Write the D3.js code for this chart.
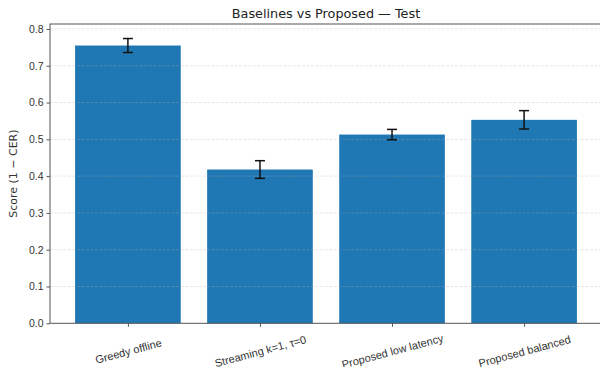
<!DOCTYPE html>
<html><head><meta charset="utf-8">
<script src="https://cdn.jsdelivr.net/npm/d3@7"></script>
<style>body{margin:0;background:#fff;}svg{display:block;font-family:"DejaVu Sans",sans-serif;}</style>
</head><body>
<svg id="c" width="600" height="367"></svg>
<script>
const categories = ["Greedy offline", "Streaming k=1, τ=0", "Proposed low latency", "Proposed balanced"];
const scores = [0.755, 0.418, 0.513, 0.553];
const errors = [0.019, 0.024, 0.014, 0.025];
const yTicks = [0.0, 0.1, 0.2, 0.3, 0.4, 0.5, 0.6, 0.7, 0.8];
const title = "Baselines vs Proposed — Test";
const yLabel = "Score (1 − CER)";

const svg = d3.select("#c");
const L = 50, R = 602, T = 24, B = 323.3;
const n = categories.length;
const x = d3.scaleLinear().domain([-0.59, n - 1 + 0.59]).range([L, R]);
const y = d3.scaleLinear().domain([0, 0.8135]).range([B, T]);
const bw = x(0.8) - x(0);

// bars
svg.append("g").selectAll("rect").data(scores).join("rect")
  .attr("x", (d, i) => x(i) - bw / 2).attr("width", bw)
  .attr("y", d => y(d)).attr("height", d => B - y(d))
  .attr("fill", "#1f77b4");

// grid (over bars, faint)
svg.append("g").selectAll("line").data(yTicks.slice(1)).join("line")
  .attr("x1", L).attr("x2", R).attr("y1", d => y(d)).attr("y2", d => y(d))
  .attr("stroke", "#b0b0b0").attr("stroke-opacity", 0.35).attr("stroke-width", 0.9)
  .attr("stroke-dasharray", "3,1.5");

// error bars
const eg = svg.append("g").attr("stroke", "#111").attr("stroke-width", 1.5);
scores.forEach((v, i) => {
  const cx = x(i), e = errors[i];
  eg.append("line").attr("x1", cx).attr("x2", cx).attr("y1", y(v - e)).attr("y2", y(v + e));
  eg.append("line").attr("x1", cx - 5).attr("x2", cx + 5).attr("y1", y(v - e)).attr("y2", y(v - e));
  eg.append("line").attr("x1", cx - 5).attr("x2", cx + 5).attr("y1", y(v + e)).attr("y2", y(v + e));
});

// frame
svg.append("rect").attr("x", L).attr("y", T).attr("width", R - L).attr("height", B - T)
  .attr("fill", "none").attr("stroke", "#555").attr("stroke-width", 1);

// y axis
const ya = d3.axisLeft(y).tickValues(yTicks).tickFormat(d3.format(".1f")).tickSize(3.5).tickPadding(3);
const gy = svg.append("g").attr("transform", `translate(${L},0)`).call(ya);
gy.select(".domain").remove();
gy.selectAll(".tick line").attr("stroke", "#555");
gy.selectAll("text").attr("font-size", 10.5).attr("fill", "#333");

// x axis
const xa = d3.axisBottom(x).tickValues(d3.range(n)).tickFormat(i => categories[i]).tickSize(3.5);
const gx = svg.append("g").attr("transform", `translate(0,${B})`).call(xa);
gx.select(".domain").remove();
gx.selectAll(".tick line").attr("stroke", "#555");
gx.selectAll("text").attr("font-size", 11).attr("fill", "#333")
  .attr("text-anchor", "middle").attr("dy", "0.35em").attr("y", 0)
  .attr("transform", "translate(0,28) rotate(-15)");

// title
svg.append("text").attr("x", (L + R) / 2).attr("y", 18).attr("text-anchor", "middle")
  .attr("font-size", 12.8).attr("fill", "#222").text(title);

// y label
svg.append("text").attr("transform", `translate(17,${(T + B) / 2}) rotate(-90)`)
  .attr("text-anchor", "middle").attr("font-size", 11).attr("fill", "#333").text(yLabel);
</script>
</body></html>
